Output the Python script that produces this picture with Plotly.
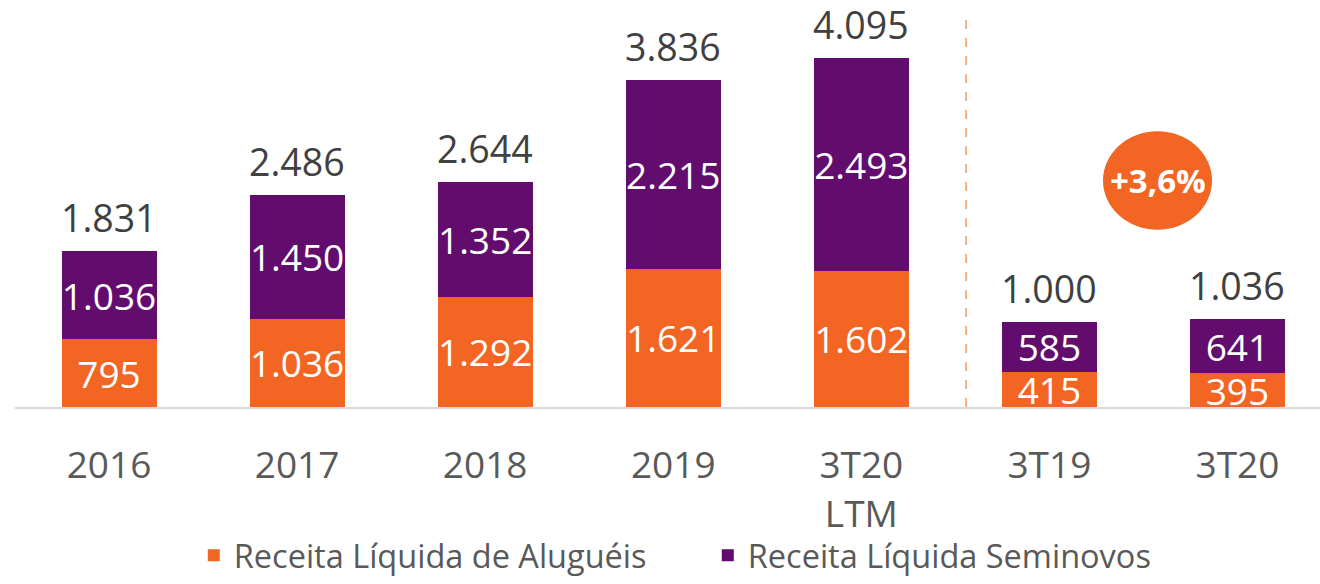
import plotly.graph_objects as go

categories = ["2016", "2017", "2018", "2019", "3T20<br>LTM", "3T19", "3T20"]
alugueis = [795, 1036, 1292, 1621, 1602, 415, 395]
seminovos = [1036, 1450, 1352, 2215, 2493, 585, 641]
totals = [1831, 2486, 2644, 3836, 4095, 1000, 1036]
growth_label = "+3,6%"

def fmt(v):
    return f"{v:,}".replace(",", ".")

ORANGE = "#F26522"
PURPLE = "#620C6E"
FONT = "Open Sans"

x = list(range(len(categories)))

fig = go.Figure()
fig.add_trace(go.Bar(
    x=x, y=alugueis, name="Receita Líquida de Aluguéis",
    marker=dict(color=ORANGE, line=dict(width=0)),
    text=[fmt(v) for v in alugueis], textposition="inside", textangle=0,
    insidetextanchor="middle", constraintext="none",
    textfont=dict(color="white", size=37, family=FONT),
    width=0.505, cliponaxis=False,
))
fig.add_trace(go.Bar(
    x=x, y=seminovos, name="Receita Líquida Seminovos",
    marker=dict(color=PURPLE, line=dict(width=0)),
    text=[fmt(v) for v in seminovos], textposition="inside", textangle=0,
    insidetextanchor="middle", constraintext="none",
    textfont=dict(color="white", size=37, family=FONT),
    width=0.505, cliponaxis=False,
))

for xi, t in zip(x, totals):
    fig.add_annotation(x=xi, y=t, text=fmt(t), showarrow=False,
                       yanchor="bottom", yshift=6,
                       font=dict(size=37.5, color="#404040", family=FONT))

# separator
fig.add_shape(type="line", x0=4.557, x1=4.557, y0=0, y1=4580, xref="x", yref="y",
              line=dict(color="#F4B183", width=2, dash="dash"), layer="below")

# growth circle
fig.add_shape(type="circle", x0=5.285, x1=5.865, y0=2080, y1=3237, xref="x", yref="y",
              fillcolor=ORANGE, line=dict(width=0))
fig.add_annotation(x=5.575, y=2658, text=f"<b>{growth_label}</b>", showarrow=False,
                   font=dict(size=33, color="white", family=FONT))

fig.update_layout(
    barmode="stack",
    width=1320, height=584,
    margin=dict(l=15, r=0, t=0, b=171.3),
    plot_bgcolor="white", paper_bgcolor="white",
    font=dict(family=FONT, color="#595959"),
    showlegend=True,
    legend=dict(orientation="h", x=0.137, xanchor="left", y=-0.365, yanchor="middle",
                traceorder="normal",
                font=dict(size=32.5, color="#595959", family=FONT),
                entrywidth=469, entrywidthmode="pixels", itemsizing="constant"),
)
fig.update_xaxes(
    tickmode="array", tickvals=x, ticktext=categories,
    range=[-0.5, 6.439], showgrid=False, zeroline=False,
    showline=True, linecolor="#D9D9D9", linewidth=2,
    tickfont=dict(size=37, color="#595959", family=FONT),
    ticks="", ticklabelstandoff=25,
)
fig.update_yaxes(range=[0, 4777], visible=False, showgrid=False, zeroline=False)

fig.write_html("out.html", config={"displayModeBar": False},
               post_script="document.body.style.margin='0';document.body.style.overflow='hidden';")
